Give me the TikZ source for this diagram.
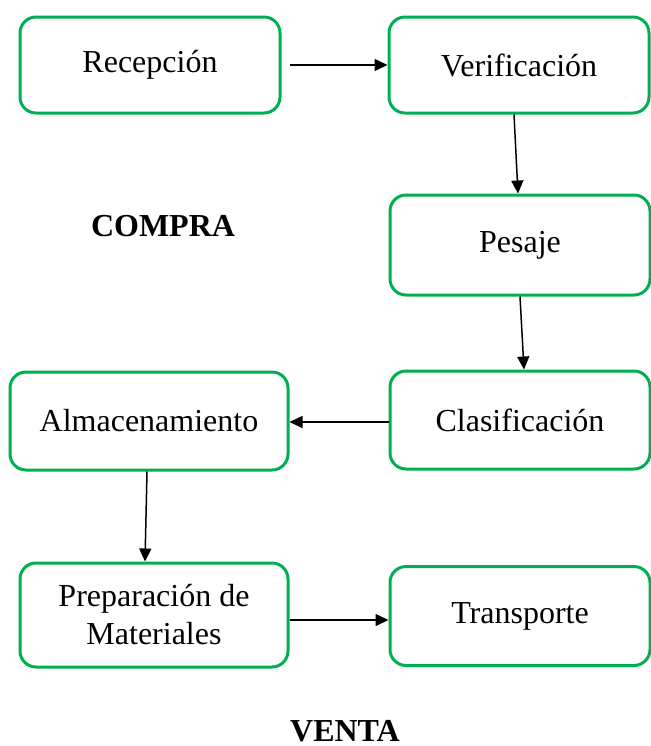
\documentclass[tikz,border=0pt]{standalone}
\usepackage{fontspec}
\setmainfont{Liberation Serif}
\usetikzlibrary{arrows.meta}
\definecolor{verde}{RGB}{0,176,80}
\tikzset{
  paso/.style={draw=verde, line width=1.5pt, rounded corners=8pt, inner sep=0pt,
    minimum width=130pt, minimum height=48pt, align=center,
    font=\fontsize{16}{19}\selectfont},
  flecha/.style={-{Triangle[length=6.5pt,width=6pt]}, line width=0.75pt},
  titulo/.style={font=\fontsize{16}{19}\selectfont\bfseries}
}
\begin{document}
\begin{tikzpicture}[x=0.5pt, y=-0.5pt, line join=round]
  \useasboundingbox (0,0) rectangle (650,746);
  % compra
  \node[paso] (recep) at (150,65) {Recepción};
  \node[paso] (verif) at (519,65) {Verificación};
  \node[paso, minimum height=50pt] (pesaje) at (520,245) {Pesaje};
  \node[paso, minimum height=49pt] (clasif) at (520,420) {Clasificación};
  \node[paso, minimum width=139pt, minimum height=49pt] (almac) at (149,421) {Almacenamiento};
  \node[titulo] (compra) at (163,226) {COMPRA};
  % venta
  \node[paso, minimum width=134pt, minimum height=52pt] (prep) at (154,615) {Preparación de\\Materiales};
  \node[paso, minimum height=49.5pt] (transp) at (520,616) {Transporte};
  \node[titulo] (venta) at (345,731) {VENTA};
  % flechas
  \draw[flecha, shorten <=4pt] (recep.east) -- (verif.west);
  \draw[flecha] ([xshift=-2.5pt]verif.south) -- ([xshift=-1pt]pesaje.north);
  \draw[flecha] ([xshift=0pt]pesaje.south) -- ([xshift=2pt]clasif.north);
  \draw[flecha] ([yshift=-1pt]clasif.west) -- ([yshift=-1pt]clasif.west -| almac.east);
  \draw[flecha] ([xshift=-1pt]almac.south) -- ([xshift=-4.5pt]prep.north);
  \draw[flecha] ([yshift=-2.5pt]prep.east) -- ([yshift=-2pt]transp.west);
\end{tikzpicture}
\end{document}
